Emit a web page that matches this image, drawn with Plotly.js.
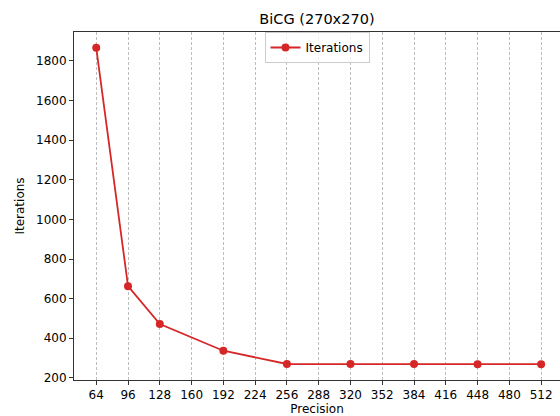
<!DOCTYPE html>
<html>
<head>
<meta charset="utf-8">
<script src="https://cdn.plot.ly/plotly-3.0.1.min.js"></script>
<style>html,body{margin:0;padding:0;background:#fff;}#chart{width:560px;height:416px;}</style>
</head>
<body>
<div id="chart"></div>
<script>
const precision = [64, 96, 128, 192, 256, 320, 384, 448, 512];
const iterations = [1866, 663, 472, 337, 270, 270, 270, 269, 269];
const xTicks = [64, 96, 128, 160, 192, 224, 256, 288, 320, 352, 384, 416, 448, 480, 512];
const yTicks = [200, 400, 600, 800, 1000, 1200, 1400, 1600, 1800];

const font = {family: 'DejaVu Sans', size: 12, color: '#000'};
const trace = {
  x: precision, y: iterations, type: 'scatter', mode: 'lines+markers',
  name: 'Iterations',
  line: {color: '#d62728', width: 1.8},
  marker: {color: '#d62728', size: 8}
};
const layout = {
  width: 560, height: 416,
  margin: {l: 74, r: 0, t: 32, b: 36},
  paper_bgcolor: '#fff', plot_bgcolor: '#fff',
  font: font,
  showlegend: true,
  title: {text: 'BiCG (270x270)', font: {family: 'DejaVu Sans', size: 14.5, color: '#000'}, x: 0.566, xanchor: 'center', y: 0.955, yanchor: 'middle'},
  xaxis: {
    range: [41.6, 531], tickvals: xTicks, ticktext: xTicks.map(String),
    showgrid: true, gridcolor: '#bdbdbd', griddash: '3px,2px', gridwidth: 1,
    showline: true, linecolor: '#333', linewidth: 1, mirror: true,
    ticks: 'outside', ticklen: 4, tickcolor: '#333', zeroline: false,
    tickfont: font,
    title: {text: 'Precision', font: font, standoff: 6}
  },
  yaxis: {
    range: [189.2, 1946], tickvals: yTicks, ticktext: yTicks.map(String),
    showgrid: false, showline: true, linecolor: '#333', linewidth: 1,
    ticks: 'outside', ticklen: 4, tickcolor: '#333', zeroline: false,
    tickfont: font,
    title: {text: 'Iterations', font: font, standoff: 8}
  },
  legend: {
    x: 0.5, xanchor: 'center', y: 1.0, yanchor: 'top',
    bgcolor: 'rgba(255,255,255,0.8)', bordercolor: '#ccc', borderwidth: 1,
    font: font
  }
};
Plotly.newPlot('chart', [trace], layout, {staticPlot: true, displayModeBar: false});
</script>
</body>
</html>
